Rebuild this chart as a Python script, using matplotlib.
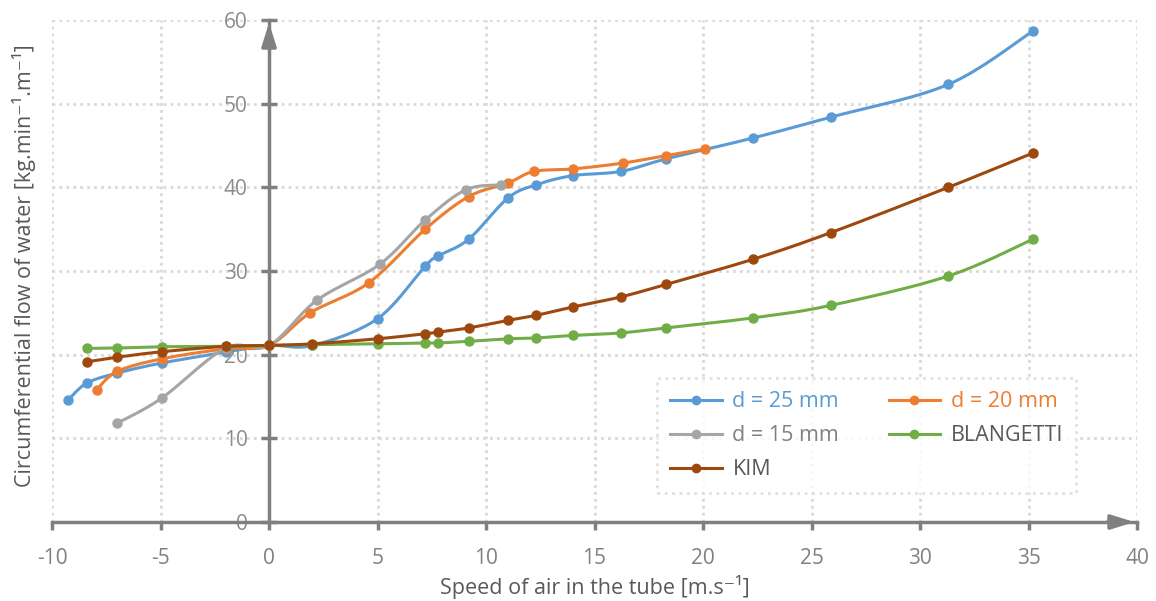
import numpy as np
import matplotlib
matplotlib.use('Agg')
from matplotlib import pyplot as plt

plt.rcParams['font.family'] = ['Open Sans', 'DejaVu Sans']
plt.rcParams['axes.unicode_minus'] = False

# data
x_d25 = [-9.25, -8.4, -7.0, -4.95, -2.0, 0, 2.0, 5.0, 7.2, 7.8, 9.2, 11.0, 12.3, 14.0, 16.2, 18.3, 22.3, 25.9, 31.3, 35.2]
y_d25 = [14.6, 16.6, 17.8, 19.0, 20.3, 21.1, 21.1, 24.3, 30.6, 31.8, 33.8, 38.7, 40.3, 41.4, 41.9, 43.4, 45.9, 48.4, 52.3, 58.7]

x_d20 = [-7.94, -7.0, -4.95, -2.0, 0, 1.9, 4.6, 7.2, 9.2, 11.0, 12.2, 14.0, 16.3, 18.3, 20.1]
y_d20 = [15.8, 18.0, 19.5, 20.7, 21.1, 25.0, 28.6, 35.0, 38.9, 40.5, 41.9, 42.2, 42.9, 43.8, 44.6]

x_d15 = [-7.0, -4.95, -2.0, 0, 2.2, 5.1, 7.2, 9.06, 10.7]
y_d15 = [11.8, 14.8, 20.8, 21.1, 26.5, 30.8, 36.1, 39.7, 40.3]

x_bl = [-8.4, -7.0, -4.95, -2.0, 0, 2.0, 5.0, 7.2, 7.8, 9.2, 11.0, 12.3, 14.0, 16.2, 18.3, 22.3, 25.9, 31.3, 35.2]
y_bl = [20.75, 20.8, 20.95, 21.0, 21.1, 21.2, 21.3, 21.4, 21.4, 21.6, 21.9, 22.0, 22.3, 22.6, 23.2, 24.4, 25.9, 29.4, 33.8]

x_kim = [-8.4, -7.0, -4.95, -2.0, 0, 2.0, 5.0, 7.2, 7.8, 9.2, 11.0, 12.3, 14.0, 16.2, 18.3, 22.3, 25.9, 31.3, 35.2]
y_kim = [19.15, 19.7, 20.35, 21.0, 21.1, 21.3, 21.9, 22.5, 22.7, 23.2, 24.1, 24.7, 25.7, 26.9, 28.4, 31.4, 34.6, 40.0, 44.1]

series = [
    ('d = 25 mm', x_d25, y_d25, '#5B9BD5', '#5B9BD5'),
    ('d = 20 mm', x_d20, y_d20, '#ED7D31', '#ED7D31'),
    ('d = 15 mm', x_d15, y_d15, '#A5A5A5', '#808080'),
    ('BLANGETTI', x_bl, y_bl, '#70AD47', '#595959'),
    ('KIM', x_kim, y_kim, '#9E480E', '#595959'),
]


def smooth(xs, ys, n=20):
    # excel-like smoothed line (bezier through the points)
    p = np.column_stack([xs, ys]).astype(float)
    out = [p[0]]
    for i in range(len(p) - 1):
        p0 = p[i - 1] if i > 0 else p[i]
        p3 = p[i + 2] if i + 2 < len(p) else p[i + 1]
        c1 = p[i] + (p[i + 1] - p0) / 6
        c2 = p[i + 1] - (p3 - p[i]) / 6
        t = np.linspace(0, 1, n)[1:, None]
        seg = (1 - t) ** 3 * p[i] + 3 * (1 - t) ** 2 * t * c1 + 3 * (1 - t) * t ** 2 * c2 + t ** 3 * p[i + 1]
        out.extend(seg)
    out = np.array(out)
    return out[:, 0], out[:, 1]


fig = plt.figure(figsize=(11.56, 6.01), dpi=100)
ax = fig.add_axes([0.045, 0.1314, 0.9386, 0.8353])

handles = {}
for name, xs, ys, col, tcol in series:
    sx, sy = smooth(xs, ys)
    ax.plot(sx, sy, color=col, lw=2.2, solid_capstyle='round', zorder=3)
    ax.plot(xs, ys, 'o', color=col, ms=6.5, zorder=4)
    h, = ax.plot([], [], '-o', color=col, lw=2.2, ms=6, label=name)
    handles[name] = (h, tcol)

ax.set_xlim(-10, 40)
ax.set_ylim(0, 60)
ax.set_xticks(np.arange(-10, 41, 5))
ax.set_yticks(np.arange(0, 61, 10))
ax.grid(True, color='#d9d9d9', linestyle=(0, (1, 1.5)), lw=2.0, zorder=0)

for s in ['top', 'right']:
    ax.spines[s].set_visible(False)
ax.spines['left'].set_position(('data', 0))
ax.spines['bottom'].set_position(('data', 0))
for s in ['left', 'bottom']:
    ax.spines[s].set_color('#808080')
    ax.spines[s].set_linewidth(2.5)
    ax.spines[s].set_zorder(2)

# arrow heads
arr = dict(arrowstyle='-|>,head_length=0.7,head_width=0.22', color='#808080', lw=2.5, mutation_scale=20)
ax.annotate('', xy=(40, 0), xytext=(38.5, 0), arrowprops=arr, annotation_clip=False, zorder=2)
ax.annotate('', xy=(0, 60), xytext=(0, 57.5), arrowprops=arr, annotation_clip=False, zorder=2)

ax.tick_params(axis='y', direction='inout', length=11, width=2.5, color='#808080',
               labelcolor='#8c8c8c', labelsize=15, pad=10)
ax.tick_params(axis='x', direction='out', length=6, width=2.5, color='#808080',
               labelcolor='#808080', labelsize=15, pad=13)

ax.set_xlabel('Speed of air in the tube [m.s⁻¹]', fontsize=15.5, color='#595959')
ax.set_ylabel('Circumferential flow of water [kg.min⁻¹.m⁻¹]', fontsize=15.5, color='#595959')
ax.xaxis.set_label_coords(0.5, -0.105)
ax.yaxis.set_label_coords(-0.015, 0.51)

order = ['d = 25 mm', 'd = 15 mm', 'KIM', 'd = 20 mm', 'BLANGETTI']
leg = ax.legend([handles[k][0] for k in order], order, ncol=2, loc='lower left',
                bbox_to_anchor=(0.5576, 0.0578), borderaxespad=0, fontsize=15.5, frameon=True,
                fancybox=False, handlelength=2.4, columnspacing=2.3,
                labelspacing=0.6, borderpad=0.6, handletextpad=0.5)
fr = leg.get_frame()
fr.set_edgecolor('#d9d9d9')
fr.set_linestyle(':')
fr.set_linewidth(2.0)
for t, k in zip(leg.get_texts(), order):
    t.set_color(handles[k][1])

plt.savefig('out.png', dpi=100)
